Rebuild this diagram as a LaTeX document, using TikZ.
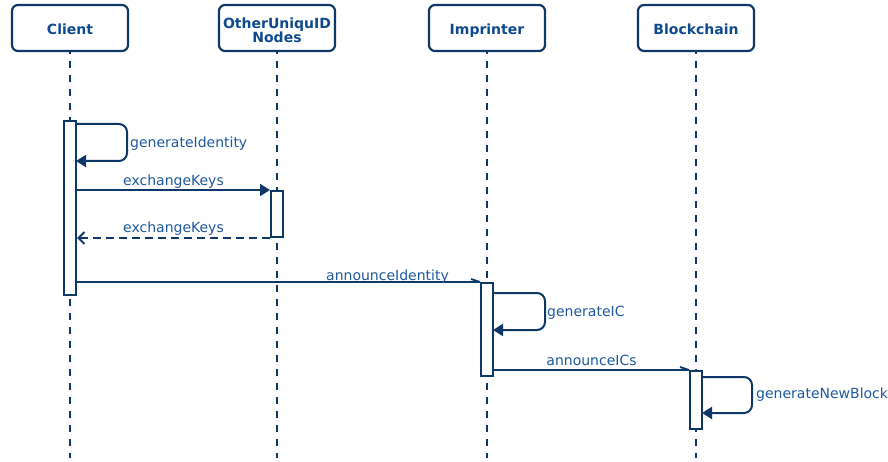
\documentclass[tikz,border=0pt]{standalone}
\usepackage{fontspec}
\setmainfont{DejaVu Sans}
\usetikzlibrary{arrows.meta}
\definecolor{navy}{RGB}{14,56,104}
\definecolor{txt}{RGB}{30,88,158}
\definecolor{ttl}{RGB}{16,74,142}
\begin{document}
\begin{tikzpicture}[x=1pt,y=-1pt,
  header/.style={draw=navy,line width=2.2pt,rounded corners=6pt,fill=white,minimum width=116pt,minimum height=46pt,inner sep=0pt},
  htext/.style={font=\fontsize{14}{14}\selectfont\bfseries,text=ttl,inner sep=0pt,anchor=base},
  lifeline/.style={draw=navy,line width=2pt,dash pattern=on 7pt off 7pt,dash phase=5pt},
  act/.style={draw=navy,line width=2pt,fill=white,minimum width=12pt,inner sep=0pt},
  msg/.style={draw=navy,line width=2pt,-{Triangle[length=10pt,width=12pt]}},
  ret/.style={draw=navy,line width=2pt,dash pattern=on 8pt off 5pt,-{Straight Barb[length=6pt,width=12pt]}},
  async/.style={draw=navy,line width=1.8pt},
  lbl/.style={font=\fontsize{14}{16}\selectfont,text=txt,inner sep=0pt}]
\useasboundingbox (0,0) rectangle (888,462);
% headers
\node[header] (hC) at (70,28) {};
\node[htext] (tC) at (70,35) {Client};
\node[header] (hO) at (277,28) {};
\node[htext] (tO1) at (277,28.5) {OtherUniquID};
\node[htext] (tO2) at (277,42.5) {Nodes};
\node[header] (hI) at (487,28) {};
\node[htext] (tI) at (487,35) {Imprinter};
\node[header] (hB) at (696,28) {};
\node[htext] (tB) at (696,35) {Blockchain};
% lifeline ends
\coordinate (eC) at (70,458);
\coordinate (eO) at (277,458);
\coordinate (eI) at (487,458);
\coordinate (eB) at (696,458);
\draw[lifeline] (hC.south) -- (eC);
\draw[lifeline] (hO.south) -- (eO);
\draw[lifeline] (hI.south) -- (eI);
\draw[lifeline] (hB.south) -- (eB);
% activations
\node[act,minimum height=174pt] (aC) at (70,208) {};
\node[act,minimum height=46pt] (aO) at (277,214) {};
\node[act,minimum height=93pt] (aI) at (487,329.5) {};
\node[act,minimum height=58pt] (aB) at (696,400) {};
% self loop: generateIdentity
\coordinate (l1a) at (76,124);
\coordinate (l1b) at (127,124);
\coordinate (l1c) at (127,161);
\coordinate (l1d) at (76,161);
\draw[msg,rounded corners=8pt] (l1a) -- (l1b) -- (l1c) -- (l1d);
\node[lbl,anchor=base west] (t1) at (130,148) {generateIdentity};
% exchangeKeys
\draw[msg] (aC.east |- aO.north west) -- (aO.north west);
\node[lbl,anchor=base] (t2) at (173.5,186) {exchangeKeys};
\draw[ret] (aO.south west) -- (aC.east |- aO.south west);
\node[lbl,anchor=base] (t3) at (173.5,233) {exchangeKeys};
% announceIdentity
\draw[async] (aC.east |- aI.north west) -- (aI.north west);
\coordinate (h1) at (471,279);
\draw[async] (h1) -- (aI.north west);
\node[lbl,anchor=base] (t4) at (387.5,280) {announceIdentity};
% generateIC
\coordinate (l2a) at (493,293);
\coordinate (l2b) at (545,293);
\coordinate (l2c) at (545,330);
\coordinate (l2d) at (493,330);
\draw[msg,rounded corners=8pt] (l2a) -- (l2b) -- (l2c) -- (l2d);
\node[lbl,anchor=base west] (t5) at (547,316) {generateIC};
% announceICs
\draw[async] (aI.east |- aB.north west) -- (aB.north west);
\coordinate (h2) at (680,367);
\draw[async] (h2) -- (aB.north west);
\node[lbl,anchor=base] (t6) at (591.5,365) {announceICs};
% generateNewBlock
\coordinate (l3a) at (702,377);
\coordinate (l3b) at (752,377);
\coordinate (l3c) at (752,413);
\coordinate (l3d) at (702,413);
\draw[msg,rounded corners=8pt] (l3a) -- (l3b) -- (l3c) -- (l3d);
\node[lbl,anchor=base west] (t7) at (756,398) {generateNewBlock};
\end{tikzpicture}
\end{document}
